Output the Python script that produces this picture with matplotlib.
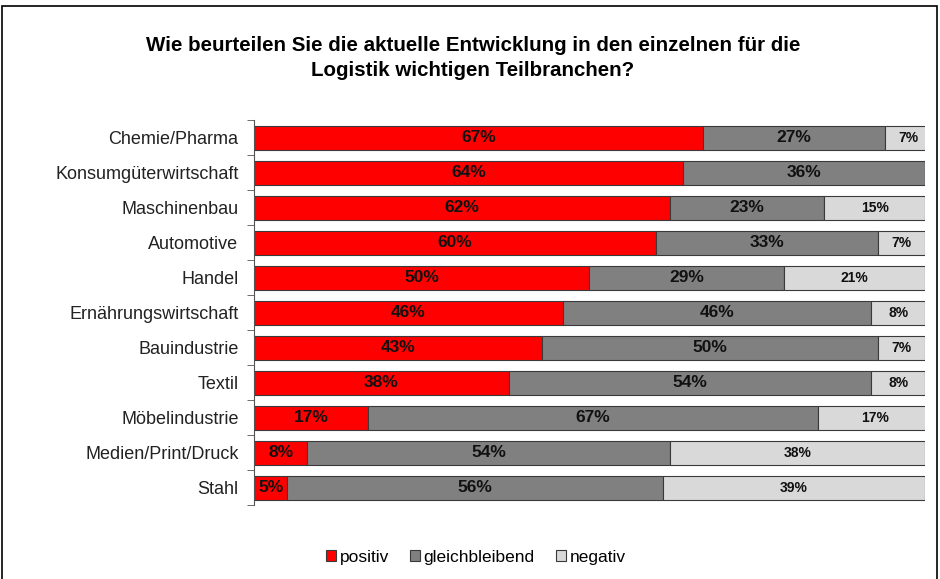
import matplotlib.pyplot as plt
import numpy as np
from matplotlib.patches import Rectangle

branchen = ["Chemie/Pharma", "Konsumgüterwirtschaft", "Maschinenbau", "Automotive",
            "Handel", "Ernährungswirtschaft", "Bauindustrie", "Textil",
            "Möbelindustrie", "Medien/Print/Druck", "Stahl"]
positiv = [67, 64, 62, 60, 50, 46, 43, 38, 17, 8, 5]
gleichbleibend = [27, 36, 23, 33, 29, 46, 50, 54, 67, 54, 56]
negativ = [7, 0, 15, 7, 21, 8, 7, 8, 17, 38, 39]

serien = ["positiv", "gleichbleibend", "negativ"]
farben = ["#FF0000", "#808080", "#D9D9D9"]

plt.rcParams['font.family'] = ['Liberation Sans', 'DejaVu Sans']
fig = plt.figure(figsize=(9.4, 5.79), dpi=100)
ax = fig.add_axes([0.270, 0.127, 0.714, 0.665])

y = np.arange(len(branchen))
links = np.zeros(len(branchen))
for name, werte, farbe in zip(serien, [positiv, gleichbleibend, negativ], farben):
    werte = np.array(werte, dtype=float)
    bars = ax.barh(y, werte, left=links, height=0.69, color=farbe,
                   edgecolor="#3a3a3a", linewidth=0.8, label=name)
    for b, w in zip(bars, werte):
        if w <= 0:
            continue
        gr = 12.5 if name != "negativ" else 10
        ax.text(b.get_x() + w / 2, b.get_y() + b.get_height() / 2, f"{int(w)}%",
                ha="center", va="center", fontsize=gr, fontweight="bold",
                family=['Liberation Sans Narrow', 'Liberation Sans'], color="#111111")
    links += werte

ax.set_xlim(0, 100)
ax.set_ylim(len(branchen) - 0.5, -0.5)
ax.set_yticks(y)
ax.set_yticklabels(branchen, fontsize=13, color="#222222")
ax.set_yticks(np.arange(len(branchen) + 1) - 0.5, minor=True)
ax.tick_params(axis="y", which="major", length=0, pad=11)
ax.tick_params(axis="y", which="minor", length=5, color="#555555")
ax.set_xticks([])
for s in ["top", "right", "bottom"]:
    ax.spines[s].set_visible(False)
ax.spines["left"].set_color("#555555")

fig.text(0.503, 0.922, "Wie beurteilen Sie die aktuelle Entwicklung in den einzelnen für die",
         ha="center", va="center", fontsize=14.8, fontweight="bold")
fig.text(0.503, 0.879, "Logistik wichtigen Teilbranchen?",
         ha="center", va="center", fontsize=14.8, fontweight="bold")

leg = fig.legend(loc="center", bbox_to_anchor=(0.506, 0.037), ncol=3, frameon=False,
                 fontsize=12.5, handlelength=0.6, handleheight=0.6, handletextpad=0.2,
                 columnspacing=1.2)

fig.patches.append(Rectangle((0.002, -0.01), 0.995, 1.0, transform=fig.transFigure,
                             fill=False, edgecolor="black", linewidth=1.2))

fig.savefig("out.png", dpi=100)
